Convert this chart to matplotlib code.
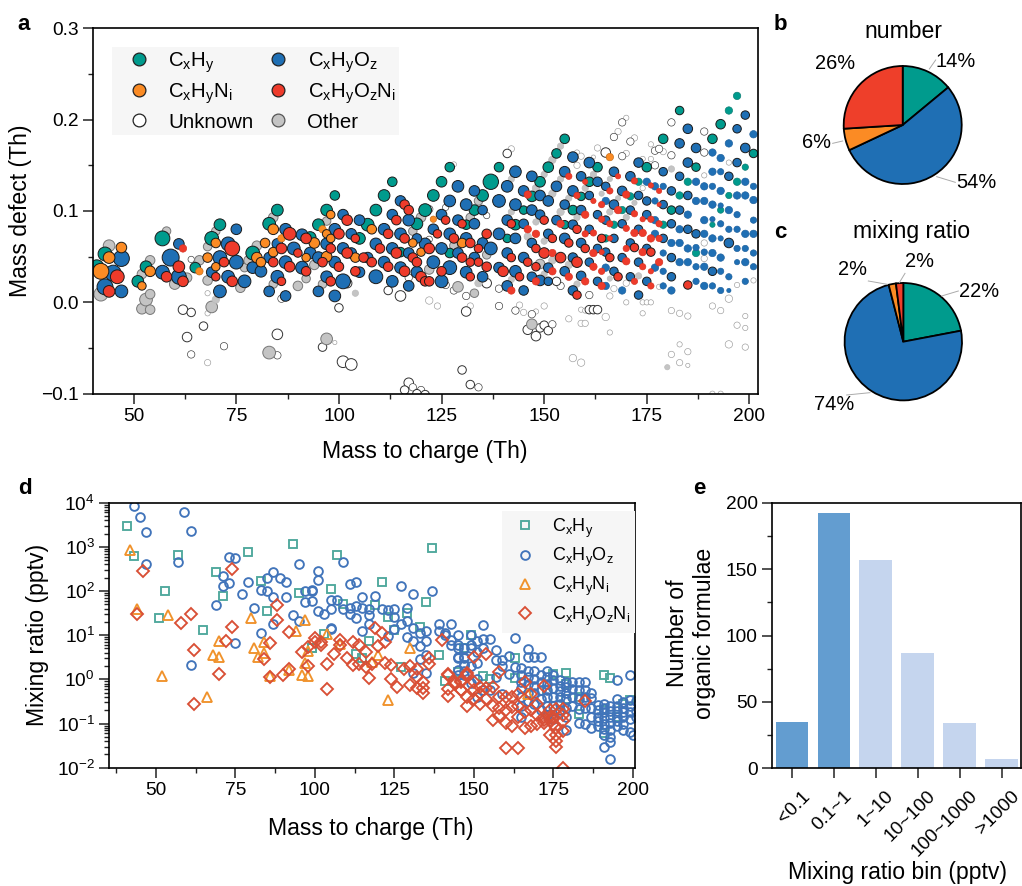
import numpy as np
import matplotlib
matplotlib.use('Agg')
import matplotlib.pyplot as plt
from matplotlib.lines import Line2D
from matplotlib.transforms import ScaledTranslation
from matplotlib.ticker import MultipleLocator, FixedLocator, LogLocator, NullFormatter

# ---------- panel a: (mass to charge, mass defect, bubble diameter) ----------
a_ch = [(41,.039,13),(43,.053,13),(53,.039,11),(51,.023,11),(57,.070,14),(65,.038,10),(69,.070,13),(71,.085,11),
(79,.054,13),(83,.086,12),(85,.101,11),(95,.085,11),(93,.071,11),(97,.101,11),(99,.117,9),(107,.085,12),(105,.070,11),
(109,.101,11),(111,.117,11),(113,.132,9),(125,.132,10),(127,.148,9),(123,.117,11),(121,.101,12),(119,.086,11),(115,.055,9),
(139,.148,9),(137,.132,14.5),(135,.117,11),(133,.101,10),(131,.085,9),(127,.054,9),(145,.101,8),(147,.116,10),(143,.085,10),
(141,.070,8),(149,.132,10),(151,.148,10),(153,.163,9),(155,.179,9),(159,.116,8),(157,.101,9),(155,.085,8),(161,.132,9),
(163,.148,9),(167,.085,7),(165,.070,7),(169,.101,7),(171,.116,7),(173,.132,7),(175,.148,9),(179,.179,9),(183,.210,8),
(179,.085,7),(181,.101,8),(183,.117,7),(185,.132,7),(187,.148,8),(191,.179,9),(193,.195,9),(195,.210,7),(197,.226,7),
(201,.163,8),(199,.148,6),(197,.132,7),(195,.117,6),(193,.101,6),(191,.085,5),(187,.054,7)]
a_cho = [(43,.017,15),(45,.032,15),(47,.048,15),(47,.012,12),(59,.049,16),(57,.033,13),(61,.028,14),(61,.064,10),(71,.012,12),
(69,.033,10),(71,.049,13),(73,.064,13),(75,.080,10),(75,.044,13),(73,.028,12),(77,.023,12),(79,.038,11),(81,.034,11),(83,.012,10),
(83,.049,10),(85,.028,12),(85,.064,10),(87,.080,11),(87,.007,10),(87,.044,12),(89,.059,12),(91,.074,11),(91,.038,12),(93,.054,11),
(95,.012,10),(95,.049,11),(97,.028,11),(97,.064,11),(99,.007,11),(99,.080,11),(99,.044,11),(101,.023,14),(101,.096,10),(101,.059,11),
(103,.075,10),(103,.054,10),(105,.090,10),(105,.033,10),(107,.049,10),(109,.028,13),(109,.064,11),(111,.080,11),(111,.044,11),
(113,.023,11),(113,.096,10),(113,.059,11),(115,.111,10),(115,.075,11),(115,.038,11),(117,.090,11),(117,.054,10),(121,.064,11),
(119,.070,9),(117,.018,10),(119,.033,11),(123,.044,12),(123,.080,10),(125,.096,10),(125,.059,11),(125,.023,12),(127,.111,11),
(127,.075,11),(127,.038,13),(129,.127,11),(129,.090,10),(129,.054,10),(131,.107,11),(131,.070,11),(131,.033,11),(133,.122,10),
(133,.086,10),(133,.049,10),(135,.101,9),(135,.065,10),(135,.028,10),(137,.059,12),(139,.111,12),(139,.075,11),(139,.038,10),
(141,.127,11),(141,.090,10),(141,.054,10),(141,.018,10),(143,.143,11),(143,.107,11),(143,.070,10),(143,.034,11),(145,.122,10),
(145,.086,9),(145,.049,10),(145,.013,9),(147,.138,10),(147,.101,10),(147,.065,9),(147,.028,9),(149,.117,10),(149,.096,9),(149,.024,10),
(151,.111,10),(151,.075,9),(151,.038,9),(151,.023,8),(153,.127,10),(153,.090,9),(155,.143,10),(155,.107,9),(155,.070,10),(155,.034,9),
(157,.159,10),(157,.122,10),(157,.085,9),(157,.049,9),(157,.013,9),(159,.138,9),(159,.101,9),(159,.065,9),(159,.029,9),(161,.153,10),
(161,.117,8),(161,.080,8),(161,.044,8),(163,.132,9),(163,.096,8),(163,.059,8),(163,.023,8),(165,.127,8),(165,.111,7),(165,.090,8),
(165,.055,8),(165,.038,7),(165,.018,7),(167,.143,9),(167,.107,9),(167,.070,8),(167,.034,8),(169,.122,9),(169,.086,8),(169,.049,8),
(169,.013,7),(171,.138,9),(171,.101,8),(171,.065,8),(171,.028,8),(173,.153,9),(173,.117,8),(173,.080,8),(173,.044,8),(173,.008,8),
(175,.132,7),(175,.111,8),(175,.096,8),(175,.059,8),(175,.023,8),(177,.127,7),(177,.111,6),(177,.090,7),(177,.075,7),(177,.038,7),
(179,.143,8),(179,.127,6),(179,.107,8),(179,.070,8),(179,.054,6),(179,.034,6),(179,.018,6),(181,.122,8),(181,.086,8),(181,.065,7),
(181,.049,8),(181,.028,8),(181,.013,7),(183,.174,9),(183,.138,8),(183,.101,8),(183,.080,7),(183,.065,7),(183,.044,7),(185,.190,9),
(185,.153,9),(185,.117,8),(185,.096,7),(185,.080,8),(185,.059,7),(185,.044,7),(187,.169,9),(187,.132,7),(187,.111,7),(187,.075,8),
(187,.060,6),(187,.039,6),(187,.023,6),(189,.127,7),(189,.111,7),(189,.090,7),(189,.075,7),(189,.055,6),(189,.039,7),(189,.018,7),
(191,.164,7),(191,.143,7),(191,.127,6),(191,.107,7),(191,.091,5),(191,.070,7),(191,.054,7),(191,.034,8),(191,.018,6),(193,.158,7),
(193,.143,6),(193,.122,7),(193,.106,5),(193,.086,6),(193,.070,5),(193,.049,7),(193,.034,6),(193,.013,6),(195,.174,7),(195,.138,8),
(195,.101,7),(195,.080,6),(195,.065,9),(195,.028,6),(195,.013,4),(197,.190,8),(197,.153,8),(197,.117,7),(197,.096,6),(197,.080,6),
(197,.059,6),(197,.044,5),(199,.205,8),(199,.169,9),(199,.132,7),(199,.117,7),(199,.075,7),(199,.059,6),(199,.044,7),(199,.023,6),
(201,.184,7),(201,.127,6),(201,.112,7),(201,.090,6),(201,.075,7),(201,.054,6),(201,.039,6)]
a_chn = [(42,.034,15),(44,.049,11),(47,.060,10),(52,.018,8),(54,.034,10),(66,.034,7),(68,.049,9),(70,.039,8),(70,.065,9),(80,.049,10),
(81,.044,9),(82,.065,9),(84,.080,10),(84,.055,9),(86,.070,7),(92,.049,8),(94,.065,10),(96,.080,7),(97,.075,8),(98,.096,8),(98,.070,8),
(97,.050,10),(104,.049,9),(108,.080,9),(118,.065,8),(120,.055,8),(123,.091,6),(130,.065,9),(166,.159,7)]
a_chon = [(44,.012,11),(46,.028,13),(62,.059,7),(61,.039,11),(62,.023,10),(58,.028,10),(70,.028,8),(72,.044,9),(74,.059,14),(74,.023,10),
(84,.044,9),(86,.059,10),(86,.023,8),(88,.075,12),(88,.039,10),(90,.054,8),(92,.070,10),(92,.034,9),(96,.044,9),(98,.059,9),(98,.023,9),
(100,.075,10),(100,.039,9),(102,.090,10),(102,.054,10),(104,.070,8),(104,.034,9),(106,.049,9),(108,.044,9),(110,.059,9),(112,.075,9),
(112,.039,9),(114,.090,9),(114,.054,10),(116,.107,9),(117,.101,9),(116,.070,9),(118,.049,9),(119,.044,9),(122,.059,10),(124,.075,8),
(126,.090,8),(120,.028,10),(121,.023,9),(122,.023,9),(116,.034,10),(125,.034,9),(130,.086,8),(128,.070,9),(132,.065,9),(130,.049,9),
(134,.059,8),(132,.044,8),(134,.044,8),(136,.075,9),(136,.039,9),(132,.028,8),(140,.034,10),(142,.086,8),(142,.049,8),(142,.013,7),
(144,.028,8),(146,.118,7),(146,.080,7),(146,.044,8),(148,.075,7),(148,.059,8),(148,.039,8),(148,.023,7),(150,.090,8),(150,.054,10),
(152,.070,8),(152,.054,7),(152,.034,7),(154,.086,7),(154,.049,10),(156,.138,6),(156,.065,8),(156,.028,7),(158,.117,6),(158,.080,8),
(158,.044,10),(158,.008,8),(160,.132,5),(160,.096,7),(160,.075,6),(160,.059,8),(160,.023,7),(162,.111,5),(162,.076,6),(162,.054,7),
(162,.039,7),(164,.107,6),(164,.091,6),(164,.070,8),(164,.055,5),(164,.034,6),(164,.018,7),(166,.122,6),(166,.086,6),(166,.070,5),
(166,.049,8),(168,.138,5),(168,.101,7),(168,.028,8),(170,.118,7),(170,.081,6),(170,.059,6),(170,.045,7),(172,.133,6),(172,.097,6),
(172,.076,7),(172,.060,8),(172,.023,6),(174,.091,5),(174,.076,7),(174,.055,7),(174,.039,6),(176,.128,5),(176,.091,6),(176,.070,7),
(176,.055,8),(176,.034,5),(176,.018,6),(178,.122,5),(178,.107,4),(178,.086,6),(178,.070,6),(178,.044,7),(185,.019,8)]
a_other = [(42,.009,13),(44,.062,11),(52,-.007,10),(53,.003,12),(54,-.008,9),(54,.009,9),(52,.031,9),(54,.046,9),(58,.078,8),(60,.020,10),
(63,.027,9),(66,.046,9),(68,.061,8),(68,.024,9),(70,.078,8),(69,-.005,11),(70,.003,7),(76,.016,9),(77,.038,8),(80,.062,9),(78,.046,9),
(84,.093,9),(84,.020,8),(90,.018,9),(92,.026,8),(94,.041,9),(96,.020,8),(97,.089,8),(104,.010,6),(83,-.055,12),(97,-.040,11),(120,.093,9),
(118,.078,8),(122,.036,9),(128,.062,8),(136,.052,8),(134,.021,7),(129,.017,10),(133,.010,8),(142,.135,6),(142,.099,6),(146,.072,7),
(148,.125,7),(150,.140,6),(150,.067,6),(152,.156,7),(152,.119,7),(154,.171,6),(154,.135,6),(154,.099,7),(148,.088,6),(150,.031,6),
(152,.046,7),(149,.042,9),(156,.114,6),(156,.041,7),(158,.093,6),(160,.125,6),(162,.140,6),(164,.119,5),(166,.135,5),(166,.099,6),
(168,.114,5),(170,.093,6),(172,.109,5),(173,.029,6),(166,.026,5),(158,.020,6),(142,.025,6),(181,.146,6),(147,-.024,10),(180,-.071,5),
(134,.111,8),(132,.093,8)]
a_unknown = [(62,-.008,9),(64,-.011,8),(67,-.026,8),(63,-.038,9),(64,-.057,7),(72,-.048,7),(64,.047,6),(85,-.035,10),(85,-.058,7),
(96,-.049,8),(100,-.006,8),(101,-.065,11),(103,-.068,11),(86,.004,7),(102,.021,9),(112,.013,8),(115,.007,10),(139,.015,7),(136,.021,9),
(139,-.004,7),(131,-.010,9),(131,.007,7),(128,.013,7),(130,-.074,8),(132,-.090,8),(134,-.093,7),(117,-.088,9),(116,-.096,8),(118,-.093,7),
(120,-.096,7),(119,-.100,8),(121,-.101,8),(143,-.009,7),(146,-.030,9),(148,-.037,9),(149,-.028,8),(150,-.025,8),(151,-.031,8),(152,-.024,7),
(147,-.013,7),(161,.008,7),(161,-.008,8),(162,-.008,8),(163,-.008,8),(154,.018,7),(153,.023,8),(141,.163,8),(165,.164,9),(167,.181,7),
(169,.197,7),(171,.176,7),(169,.160,7),(177,.150,7),(177,.166,7),(178,.168,7),(181,.161,7),(181,.197,7),(189,.187,7),(189,.164,7),
(122,.102,7),(136,.095,6),(126,.104,6),(122,.069,6),(117,.027,7),(126,.019,7)]
a_unknown_minor = [(68,.010,5),(68,-.012,5),(68,-.066,6),(99,-.044,4),(142,.168,6),(128,.151,5),(122,.002,7),(124,-.004,6),(132,-.004,6),
(144,-.003,6),(145,-.011,6),(148,-.010,5),(150,-.004,6),(156,-.018,6),(157,-.061,7),(159,-.066,7),(159,-.023,6),(160,-.023,6),(159,-.008,5),
(160,-.009,5),(165,-.016,7),(166,-.033,5),(166,.007,6),(167,.015,6),(170,.000,5),(170,.021,6),(174,.000,5),(175,.000,5),(176,.000,5),
(174,-.012,5),(178,.017,5),(181,-.009,6),(183,-.012,6),(185,-.015,6),(183,-.046,5),(181,-.057,6),(185,-.054,6),(183,-.066,6),(185,-.069,4),
(191,-.004,6),(193,-.009,6),(195,.004,7),(197,.019,5),(201,.024,5),(199,-.015,5),(197,-.025,6),(199,-.028,5),(195,-.046,7),(199,-.049,6),
(191,-.100,5),(193,-.100,5),(158,.150,6),(158,.164,5),(159,.160,6),(162,.159,4),(163,.169,6),(168,.187,6),(170,.202,5),(170,.163,6),
(172,.180,6),(176,.173,5),(176,.157,5),(174,.157,5),(179,.165,6),(174,.125,5),(189,.139,5),(195,.153,5),(189,.065,6),(189,.048,6)]

# ---------- panel b, c ----------
pie_number = [14, 54, 6, 26]
pie_mixing = [22, 74, 2, 2]

# ---------- panel d: (mass to charge, log10 mixing ratio) ----------
d_ch = [(41,3.47),(43,2.79),(51,1.40),(53,2.0),(57,2.82),(65,1.12),(69,2.44),(71,1.89),(79,2.89),(83,2.23),(85,1.55),(93,3.06),(95,1.95),
(99,.70),(103,1.02),(105,2.05),(107,2.81),(137,2.98),(121,2.2),(135,1.75),(109,1.7),(119,1.68),(123,1.41),(129,1.51),(133,1.19),(125,1.12),
(117,.88),(113,.57),(115,.48),(139,.55),(127,.29),(141,-.04),(145,.17),(99,.71),(163,.48),(155,.0),(153,.08),(179,.15),(175,.12),(191,.09),
(193,.04),(183,-.39),(147,.7),(163,.02),(173,-.24),(179,-.1),(195,-.85),(199,-.47),(197,-.55),(191,-1.21),(179,-.45),(183,-.78),(191,-.7),(149,1.0)]
d_cho = [(43,3.93),(45,3.68),(47,3.34),(47,2.62),(57,2.66),(59,3.79),(61,3.35),(61,.32),(69,1.68),(71,2.35),(71,2.12),(73,2.19),(73,2.78),(75,2.74),
(75,.82),(77,1.94),(79,2.2),(81,1.62),(83,2.02),(83,1.04),(85,2.29),(85,2.0),(87,2.42),(87,1.87),(87,1.25),(89,2.3),(91,2.2),(91,1.87),(93,1.46),
(95,1.33),(95,2.62),(97,2.0),(97,1.76),(99,2.0),(99,2.02),(99,1.77),(101,2.46),(101,2.24),(101,1.54),(103,1.49),(105,1.8),(105,1.59),(105,1.15),
(107,1.8),(109,2.65),(109,1.59),(111,2.17),(113,2.2),(127,2.11),(131,1.93),(137,2.0),(119,1.89),(115,1.86),(111,1.62),(111,1.48),(113,1.65),
(113,1.38),(115,1.62),(117,1.59),(117,1.45),(117,1.25),(115,1.1),(121,1.6),(123,1.58),(125,1.6),(125,1.41),(129,1.62),(129,1.33),(127,1.26),
(125,1.15),(123,.98),(105,1.16),(129,.96),(131,1.17),(131,.88),(133,.76),(133,1.06),(135,1.09),(135,.88),(133,.46),(135,.55),(135,.15),(131,.14),
(139,1.25),(139,1.1),(143,1.25),(143,.78),(141,1.0),(145,1.0),(145,.78),(145,.5),(145,.1),(147,.72),(147,.5),(147,.33),(147,.2),(147,.1),(149,.78),
(149,1.0),(149,-.08),(153,1.23),(151,.88),(153,.92),(155,.92),(141,1.05),(143,.9),(145,.72),(149,.72),(151,.63),(153,.72),(157,.67),(163,.94),
(167,.69),(167,.51),(169,.51),(171,.51),(161,.52),(157,.44),(159,.44),(151,.37),(147,.33),(145,.48),(147,.48),(145,.22),(149,.3),(151,.0),(153,-.25),
(151,-.4),(155,-.25),(159,-.33),(157,.05),(159,.3),(161,.13),(163,.28),(165,.25),(165,.1),(165,-.05),(165,-.2),(165,-.4),(165,-.6),(165,-.85),
(167,.2),(167,.05),(167,-.1),(167,-.3),(167,-.5),(169,.2),(169,.0),(169,-.15),(169,-.3),(169,-.55),(171,.1),(171,-.05),(171,-.25),(171,-.45),(171,-.7),
(173,.18),(173,.05),(173,-.1),(173,-.25),(173,-.4),(173,-.6),(173,-.8),(175,.1),(175,-.02),(175,-.2),(175,-.4),(175,-.6),(175,-.9),(177,-.02),(177,-.15),
(177,-.27),(177,-.4),(177,-.55),(177,-.7),(179,-.05),(179,-.17),(179,-.3),(179,-.45),(179,-.65),(179,-.85),(179,-1.15),(181,-.05),(181,-.22),(181,-.4),
(181,-.6),(183,-.05),(183,-.25),(183,-.45),(183,-.68),(183,-.98),(185,-.05),(185,-.25),(185,-.4),(185,-.65),(185,-1.0),(187,-.3),(187,-.42),(187,-.65),
(187,-.85),(187,-1.1),(189,-.58),(189,-.7),(189,-.85),(189,-.95),(189,-1.05),(191,-.55),(191,-.65),(191,-.75),(191,-.88),(191,-1.0),(191,-1.12),(191,-1.25),
(191,-1.53),(193,-.6),(193,-.72),(193,-.85),(193,-.98),(193,-1.15),(193,-1.3),(193,-1.42),(193,-1.8),(195,-.02),(195,-.45),(195,-.6),(195,-.72),(195,-.85),
(195,-.95),(195,-1.05),(197,-.52),(197,-.65),(197,-.75),(197,-.85),(197,-1.0),(197,-1.15),(199,.09),(199,-.47),(199,-.6),(199,-.75),(199,-.9),(199,-1.2),
(200,-1.25),(201,-.5),(201,-.72),(201,-.85)]
d_chn = [(42,2.92),(44,1.6),(52,.08),(54,1.46),(66,-.41),(68,.55),(70,.88),(70,.51),(80,1.4),(81,.72),(82,.51),(84,.85),(84,.6),(86,.08),(92,.22),(94,1.1),
(96,.1),(97,1.35),(97,.38),(98,.08),(98,.65),(104,1.02),(108,.8),(130,.7),(118,.4),(120,.55),(123,-.47),(167,-.33)]
d_chon = [(46,2.45),(44,1.47),(58,1.27),(61,1.48),(62,.66),(62,-.56),(70,.12),(72,.87),(74,2.49),(74,1.19),(86,.83),(86,.05),(88,1.34),(88,1.68),(84,.46),(90,.09),
(92,1.08),(92,.23),(96,.62),(98,.31),(100,.94),(98,.74),(100,.85),(102,.85),(102,.78),(104,.35),(104,-.22),(106,.57),(108,.9),(108,.78),(110,.48),(112,.85),
(114,.77),(112,.33),(116,.62),(114,.35),(116,.27),(117,.03),(119,1.16),(121,1.05),(122,.85),(120,.75),(118,.35),(122,.38),(124,.33),(128,.23),(130,.3),(132,.23),
(124,.0),(126,-.17),(132,.05),(130,-.12),(134,-.05),(132,-.2),(134,-.2),(134,-.3),(136,.49),(136,.35),(140,.9),(142,.1),(142,-.22),(144,-.05),(146,-.03),(148,.15),
(146,-.25),(148,-.4),(150,.5),(154,.57),(158,.17),(142,.13),(142,-.37),(144,-.1),(146,-.25),(148,.1),(148,-.6),(146,-.05),(150,-.25),(152,-.55),(152,-.18),(154,-.45),
(156,-.18),(158,-.4),(156,-.92),(158,-.82),(160,-.98),(162,-1.05),(160,-1.55),(164,-1.55),(166,-.07),(164,-.32),(162,-.4),(160,-.4),(162,-.62),(164,-.85),(166,-1.1),
(168,-1.05),(170,-.55),(168,-.32),(172,-.15),(168,-.7),(170,-1.0),(172,-.85),(174,-.92),(175,-.85),(172,-.98),(174,-.85),(174,-1.25),(176,-1.25),(178,-1.17),(176,-1.4),
(176,-1.52),(176,-.68),(178,-.68),(178,-.8),(178,-.95),(174,-.7),(178,-2.0),(185,-.5),(172,-.92),(176,-1.1),(175,-1.0),(150,-.05),(154,-.2),(156,-.6),(158,-.65),(160,-.7),
(164,-.6),(166,-.75),(170,-.8),(150,-.45),(152,-.3)]

# ---------- panel e ----------
e_bins = ['<0.1', '0.1~1', '1~10', '10~100', '100~1000', '>1000']
e_counts = [35, 192, 157, 87, 34, 7]

# ---------- look ----------
W, H = 1022, 886
DPI = 100
plt.rcParams.update({
    'font.family': ['Liberation Sans', 'DejaVu Sans'],
    'mathtext.fontset': 'custom', 'mathtext.rm': 'Liberation Sans', 'mathtext.it': 'Liberation Sans',
    'mathtext.default': 'regular', 'axes.linewidth': 1.2,
})
C_CH, C_CHO, C_CHN, C_CHON, C_OTHER = '#009B8D', '#1F6FB4', '#FB8B24', '#EE3B2B', '#C4C4C4'
L_CH = r'C$_{x}$H$_{y}$'
L_CHN = r'C$_{x}$H$_{y}$N$_{i}$'
L_CHO = r'C$_{x}$H$_{y}$O$_{z}$'
L_CHON = r'C$_{x}$H$_{y}$O$_{z}$N$_{i}$'
TICK, LABEL = 13.8, 16.6

fig = plt.figure(figsize=(W / DPI, H / DPI), dpi=DPI)

def box(l, t, r, b):
    return fig.add_axes([l / W, 1 - b / H, (r - l) / W, (b - t) / H])

def fxy(x, y):
    return x / W, 1 - y / H

def style_ticks(ax):
    ax.tick_params(which='major', direction='out', length=7, width=1.1, labelsize=TICK, pad=3, color='#222222')
    ax.tick_params(which='minor', direction='out', length=3.6, width=1.0, color='#222222')

def place_labels(ax, xl, xp, yl, yp):
    ax.set_xlabel(xl, fontsize=LABEL, va='center', ha='center')
    ax.set_ylabel(yl, fontsize=LABEL, va='center', ha='center', multialignment='center')
    ax.xaxis.set_label_coords(*fxy(*xp), transform=fig.transFigure)
    ax.yaxis.set_label_coords(*fxy(*yp), transform=fig.transFigure)

# ---------- a ----------
axa = box(93, 28.3, 758, 393.7)
def bubbles(ax, pts, color, edge='#1a1a1a', z=2, thin_edge=None):
    m, md, d = np.array(pts, dtype=float).T
    lw = np.where(d >= 8, 0.7, 0.45)
    if thin_edge is not None:
        ec = [edge if x >= 8 else thin_edge for x in d]
    else:
        ec = edge
    ax.scatter(m, md, s=(1.06 * d * 72 / DPI) ** 2, c=color, edgecolors=ec, linewidths=lw, zorder=z)

bubbles(axa, a_unknown_minor, 'white', edge='#9a9a9a', z=2)
bubbles(axa, a_unknown, 'white', edge='#333333', z=2.1)
bubbles(axa, a_other, C_OTHER, edge='#777777', z=2.2, thin_edge='#bbbbbb')
bubbles(axa, a_ch, C_CH, z=2.3, thin_edge='#0b7a70')
bubbles(axa, a_cho, C_CHO, z=2.4, thin_edge='#1c5f9c')
bubbles(axa, a_chn, C_CHN, z=2.5, thin_edge='#c06a15')
bubbles(axa, a_chon, C_CHON, z=2.6, thin_edge='#d53020')
axa.set_xlim(40.08, 202.1)
axa.set_ylim(-0.1, 0.3)
axa.xaxis.set_major_locator(MultipleLocator(25))
axa.xaxis.set_minor_locator(MultipleLocator(12.5))
axa.yaxis.set_major_locator(MultipleLocator(0.1))
axa.yaxis.set_minor_locator(MultipleLocator(0.05))
style_ticks(axa)
place_labels(axa, 'Mass to charge (Th)', (425, 452), 'Mass defect (Th)', (21, 211))

def handle(color, marker='o', ms=9.2, edge='#222222', mew=0.9):
    return Line2D([], [], ls='none', marker=marker, ms=ms, mfc=color, mec=edge, mew=mew)

leg_a = axa.legend(
    [handle(C_CH), handle(C_CHN), handle('white'), handle(C_CHO), handle(C_CHON), handle(C_OTHER, edge='#555555')],
    [L_CH, L_CHN, 'Unknown', L_CHO, L_CHON, 'Other'],
    ncol=2, loc='upper left', bbox_to_anchor=fxy(112, 47), bbox_transform=fig.transFigure,
    fontsize=14.7, frameon=True, facecolor='#F6F6F6', edgecolor='none', framealpha=1, fancybox=False,
    borderpad=0.15, borderaxespad=0, handlelength=2.35, handletextpad=0.25, labelspacing=0.33, columnspacing=0.05)
leg_a.set_zorder(5)

# ---------- pies ----------
PIE_COLORS = [C_CH, C_CHO, C_CHN, '#EE3F2A']
def pie(cx, cy, r, values):
    ax = box(cx - r, cy - r, cx + r, cy + r)
    ax.pie(values, colors=PIE_COLORS, startangle=90, counterclock=False, radius=1,
           wedgeprops=dict(edgecolor='black', linewidth=1.3, clip_on=False))
    ax.set_xlim(-1, 1)
    ax.set_ylim(-1, 1)
    ax.set_aspect('equal')
    return ax

pie(902.7, 125, 59, pie_number)
pie(903.3, 341.7, 58.7, pie_mixing)

def note(text, tx, ty, lead=None):
    fig.text(*fxy(tx, ty), text, fontsize=14.4, ha='center', va='center')
    if lead:
        (x0, y0), (x1, y1) = fxy(*lead[0]), fxy(*lead[1])
        fig.add_artist(Line2D([x0, x1], [y0, y1], color='#aaaaaa', lw=0.7, transform=fig.transFigure))

Z = lambda zx, zy: (770 + zx / 3, zy / 3)
note('14%', 955.7, 61.7, (Z(478, 207), Z(497, 180)))
note('26%', 835, 63.3)
note('6%', 816.7, 143, (Z(218, 423), Z(188, 430)))
note('54%', 976.7, 182.7, (Z(500, 530), Z(556, 547)))
note('22%', 979.3, 291.7, (Z(515, 888), Z(565, 873)))
note('2%', 852.3, 269.3, (Z(295, 843), Z(352, 853)))
note('2%', 919.3, 261.7, (Z(388, 848), Z(405, 820)))
note('74%', 834.3, 405, (Z(230, 1185), Z(300, 1178)))
fig.text(*fxy(903, 31), 'number', fontsize=LABEL, ha='center', va='center')
fig.text(*fxy(911.7, 231.7), 'mixing ratio', fontsize=LABEL, ha='center', va='center')

# ---------- d ----------
axd = box(108.7, 502.7, 635.3, 767.7)
def markers(pts, marker, ms, color, z):
    m, lg = np.array(pts, dtype=float).T
    axd.plot(m, 10 ** lg, ls='none', marker=marker, ms=ms, mfc='none', mec=color, mew=1.35, zorder=z)
MS = dict(s=('s', 5.6, '#4FA89C'), o=('o', 6.3, '#4174BA'), t=('^', 7.4, '#F0922B'), d=('D', 5.8, '#D94F35'))
markers(d_ch, *MS['s'], 2.1)
markers(d_cho, *MS['o'], 2.2)
markers(d_chn, *MS['t'], 2.3)
markers(d_chon, *MS['d'], 2.4)
axd.set_xlim(35.2, 200.8)
axd.set_yscale('log')
axd.set_ylim(1e-2, 1e4)
axd.xaxis.set_major_locator(MultipleLocator(25))
axd.xaxis.set_minor_locator(MultipleLocator(12.5))
axd.yaxis.set_major_locator(FixedLocator([10.0 ** e for e in range(-2, 5)]))
axd.yaxis.set_minor_locator(LogLocator(base=10, subs=np.arange(2, 10) / 1.0, numticks=12))
axd.yaxis.set_minor_formatter(NullFormatter())
style_ticks(axd)
place_labels(axd, 'Mass to charge (Th)', (371, 828), 'Mixing ratio (pptv)', (38, 635))
def lh(key):
    mk, ms, c = MS[key]
    return Line2D([], [], ls='none', marker=mk, ms=ms, mfc='none', mec=c, mew=1.35)
leg_d = axd.legend([lh('s'), lh('o'), lh('t'), lh('d')], [L_CH, L_CHO, L_CHN, L_CHON],
    loc='upper left', bbox_to_anchor=fxy(501.7, 511), bbox_transform=fig.transFigure,
    fontsize=13, frameon=True, facecolor='#F6F6F6', edgecolor='none', framealpha=1, fancybox=False,
    borderpad=0.3, borderaxespad=0, handlelength=2.0, handletextpad=0.48, labelspacing=0.34)
leg_d.set_zorder(5)

# ---------- e ----------
axe = box(771.7, 502.7, 1021, 768.3)
x = np.arange(len(e_bins))
axe.bar(x, e_counts, width=0.78, color=['#639DD0', '#639DD0', '#C5D5EE', '#C5D5EE', '#C5D5EE', '#C5D5EE'], zorder=2)
axe.set_xlim(-0.485, 5.465)
axe.set_ylim(0, 200)
axe.set_xticks(x)
axe.set_xticklabels(e_bins, rotation=45, ha='right', rotation_mode='anchor')
axe.yaxis.set_major_locator(MultipleLocator(50))
axe.yaxis.set_minor_locator(MultipleLocator(25))
style_ticks(axe)
axe.tick_params(axis='x', pad=7)
shift = ScaledTranslation(9 / DPI, 0, fig.dpi_scale_trans)
for lab in axe.get_xticklabels():
    lab.set_transform(lab.get_transform() + shift)
place_labels(axe, 'Mixing ratio bin (pptv)', (897, 873), 'Number of\norganic formulae', (691, 633))

# ---------- panel letters ----------
for s, px, py in [('a', 24, 25), ('b', 780, 25), ('c', 780, 232), ('d', 25, 488), ('e', 699, 489)]:
    fig.text(*fxy(px, py), s, fontsize=16, fontweight='bold', ha='center', va='center')

fig.savefig('out.png', dpi=DPI)
